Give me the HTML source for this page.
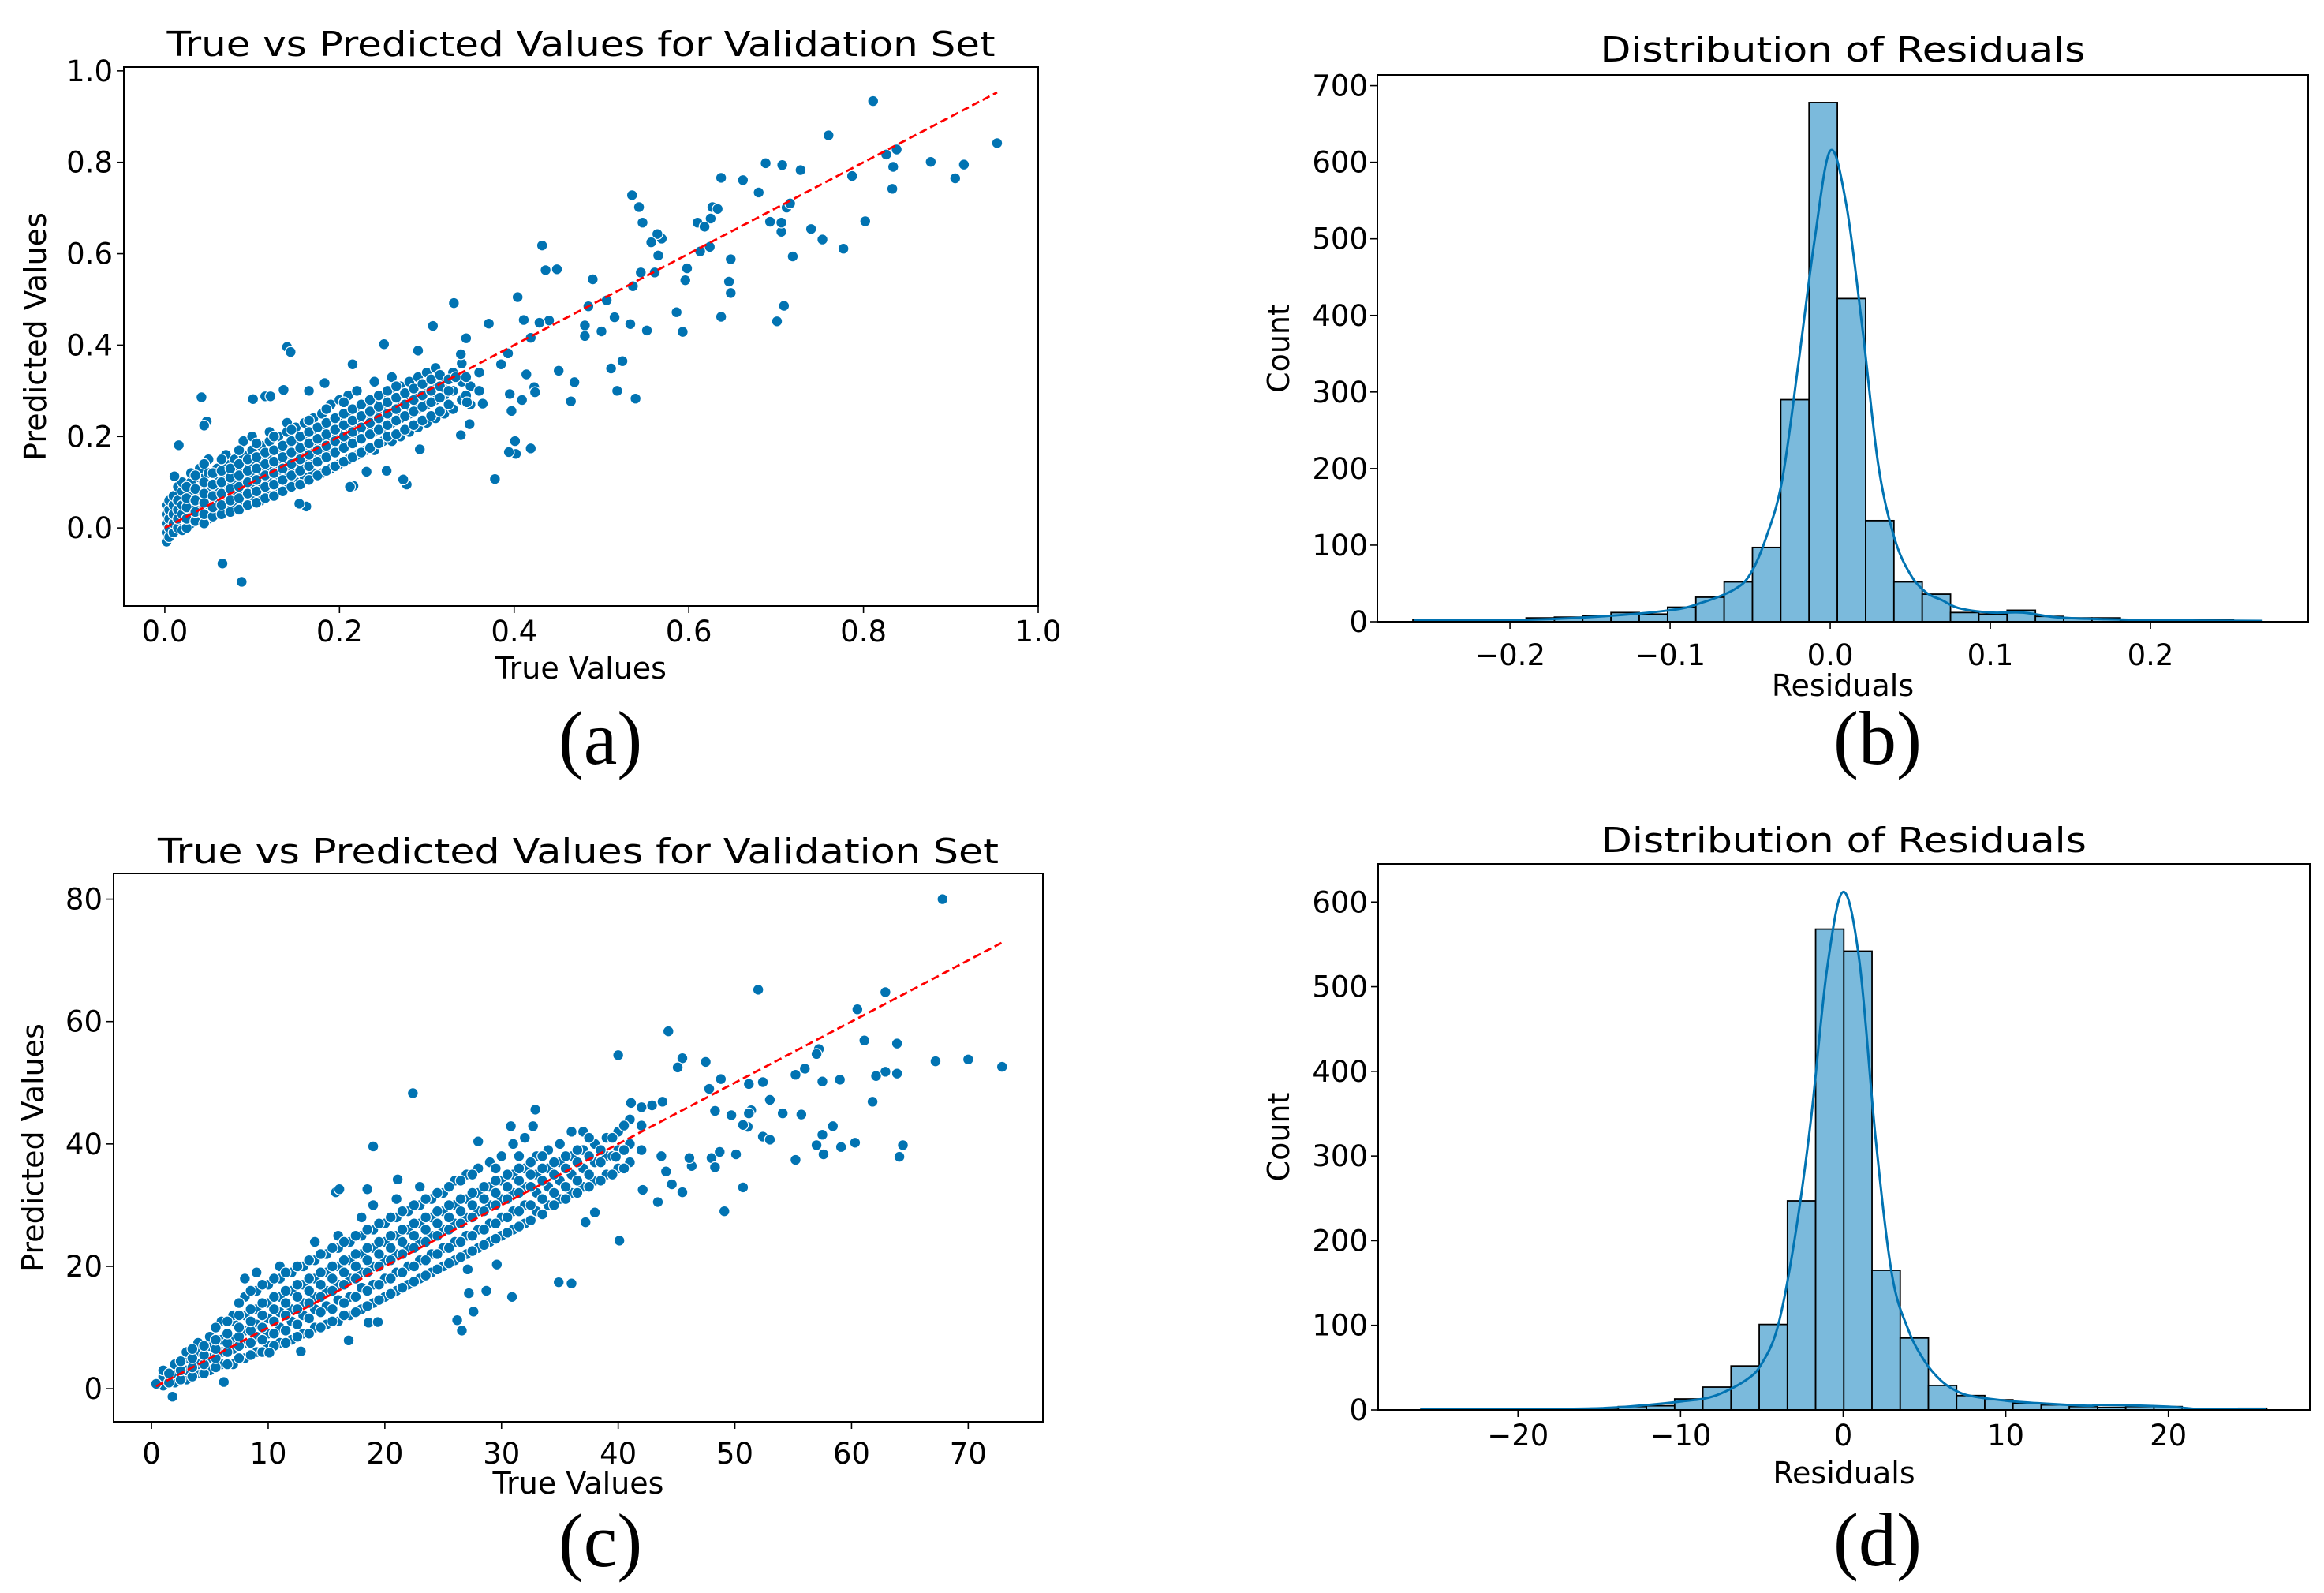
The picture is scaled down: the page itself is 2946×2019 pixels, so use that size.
<!DOCTYPE html>
<html><head><meta charset="utf-8">
<style>
html,body{margin:0;padding:0;background:#fff;}
svg{display:block;}
text{font-family:"DejaVu Sans","Liberation Sans",sans-serif;fill:#000;}
.cap{font-family:"Liberation Serif",serif;}
</style></head>
<body>
<svg id="fig" width="2946" height="2019" viewBox="0 0 2946 2019" xmlns="http://www.w3.org/2000/svg"></svg>
<script>
// ---------- Panel (a) data ----------
const aOutliers = [[0.811,0.934],[0.760,0.859],[0.826,0.817],[0.838,0.828],[0.834,0.790],[0.833,0.742],[0.787,0.770],[0.877,0.801],[0.905,0.765],[0.915,0.795],[0.953,0.842],[0.802,0.671],[0.777,0.611],[0.753,0.631],[0.740,0.654],[0.719,0.594],[0.709,0.486],[0.701,0.452],[0.706,0.648],[0.706,0.668],[0.693,0.670],[0.712,0.701],[0.716,0.710],[0.728,0.783],[0.707,0.794],[0.688,0.798],[0.680,0.734],[0.662,0.761],[0.637,0.766],[0.627,0.702],[0.633,0.698],[0.625,0.677],[0.610,0.668],[0.618,0.659],[0.624,0.615],[0.613,0.605],[0.648,0.588],[0.646,0.539],[0.648,0.514],[0.637,0.462],[0.598,0.568],[0.596,0.542],[0.586,0.472],[0.593,0.429],[0.569,0.633],[0.564,0.643],[0.557,0.625],[0.565,0.596],[0.561,0.559],[0.545,0.559],[0.535,0.728],[0.543,0.702],[0.547,0.668],[0.536,0.529],[0.552,0.432],[0.533,0.446],[0.539,0.283],[0.524,0.365],[0.511,0.349],[0.518,0.300],[0.515,0.461],[0.506,0.498],[0.500,0.430],[0.490,0.544],[0.485,0.485],[0.481,0.443],[0.481,0.420],[0.469,0.319],[0.465,0.277],[0.451,0.344],[0.449,0.566],[0.436,0.564],[0.432,0.618],[0.440,0.454],[0.429,0.449],[0.419,0.416],[0.423,0.308],[0.424,0.297],[0.414,0.336],[0.409,0.280],[0.411,0.455],[0.404,0.505],[0.419,0.174],[0.402,0.162],[0.394,0.166],[0.401,0.190],[0.397,0.256],[0.395,0.293],[0.393,0.382],[0.385,0.358],[0.378,0.107],[0.371,0.447],[0.331,0.492],[0.307,0.442],[0.290,0.388],[0.251,0.402],[0.215,0.358],[0.140,0.396],[0.144,0.385],[0.042,0.286],[0.066,-0.078],[0.088,-0.118],[0.162,0.047],[0.154,0.053],[0.011,0.113],[0.016,0.181],[0.048,0.233],[0.045,0.224],[0.101,0.282],[0.115,0.288],[0.121,0.288],[0.136,0.302],[0.165,0.300],[0.183,0.317],[0.216,0.092],[0.212,0.090],[0.231,0.123],[0.254,0.125],[0.277,0.095],[0.273,0.106],[0.292,0.172],[0.339,0.203],[0.349,0.227],[0.346,0.275],[0.364,0.272],[0.333,0.330],[0.345,0.415],[0.339,0.380]];
const aClusterX = [0.002,0.005,0.01,0.015,0.02,0.03,0.04,0.05,0.06,0.07,0.08,0.09,0.10,0.11,0.12,0.13,0.14,0.15,0.16,0.17,0.18,0.19,0.20,0.21,0.22,0.23,0.24,0.25,0.26,0.27,0.28,0.29,0.30,0.31,0.32,0.33,0.34,0.35,0.36];
const aClusterY = [[-0.03,-0.01,0.01,0.03,0.05],[-0.02,0.0,0.02,0.04,0.06],[-0.01,0.01,0.03,0.05,0.07],[0.0,0.02,0.04,0.06,0.09],[-0.005,0.03,0.05,0.08,0.1],[0.01,0.03,0.05,0.07,0.1,0.12],[0.02,0.04,0.06,0.08,0.11,0.13],[0.02,0.05,0.07,0.09,0.12,0.15],[0.03,0.06,0.08,0.1,0.13],[0.04,0.06,0.09,0.11,0.14,0.16],[0.05,0.07,0.1,0.12,0.15],[0.05,0.08,0.1,0.13,0.16,0.19],[0.06,0.09,0.11,0.14,0.17,0.2],[0.06,0.09,0.12,0.15,0.18],[0.07,0.1,0.13,0.16,0.19,0.21],[0.08,0.11,0.14,0.17,0.2],[0.09,0.12,0.15,0.18,0.21,0.23],[0.1,0.13,0.16,0.19,0.22],[0.11,0.14,0.17,0.2,0.23],[0.12,0.15,0.18,0.21,0.24],[0.12,0.16,0.19,0.22,0.25],[0.13,0.17,0.2,0.23,0.27],[0.14,0.18,0.21,0.24,0.28],[0.15,0.19,0.22,0.25,0.29],[0.16,0.2,0.23,0.26,0.3],[0.17,0.21,0.24,0.27],[0.17,0.21,0.25,0.28,0.32],[0.19,0.22,0.26,0.29],[0.19,0.23,0.26,0.3,0.33],[0.2,0.24,0.27,0.31],[0.21,0.25,0.28,0.32],[0.22,0.26,0.29,0.33],[0.23,0.27,0.3,0.34],[0.24,0.28,0.31,0.35],[0.25,0.29,0.32],[0.26,0.3,0.34],[0.28,0.32,0.36],[0.27,0.31],[0.3,0.34]];
const aCluster2X = [0.025,0.035,0.045,0.055,0.065,0.075,0.085,0.095,0.105,0.115,0.125,0.135,0.145,0.155,0.165,0.175,0.185,0.195,0.205,0.215,0.225,0.235,0.245,0.255,0.265,0.275,0.285,0.295,0.305,0.315,0.325,0.345];
const aCluster2Y = [[0.0,0.02,0.045,0.065,0.09],[0.015,0.035,0.06,0.085,0.115],[0.01,0.03,0.055,0.075,0.1,0.14],[0.025,0.045,0.07,0.095,0.12],[0.03,0.05,0.075,0.1,0.125,0.15],[0.035,0.06,0.085,0.11,0.13],[0.04,0.065,0.09,0.115,0.14,0.17],[0.05,0.075,0.1,0.125,0.15],[0.055,0.08,0.105,0.13,0.155,0.185],[0.065,0.09,0.115,0.14,0.165],[0.07,0.095,0.12,0.145,0.17,0.2],[0.08,0.105,0.13,0.155,0.18],[0.09,0.115,0.14,0.165,0.19,0.215],[0.095,0.125,0.15,0.175,0.2],[0.105,0.135,0.16,0.185,0.21,0.235],[0.115,0.145,0.17,0.195,0.22],[0.125,0.155,0.18,0.205,0.23,0.26],[0.135,0.165,0.19,0.215,0.24],[0.145,0.175,0.2,0.225,0.25,0.275],[0.155,0.185,0.21,0.235,0.26],[0.165,0.195,0.22,0.245,0.27],[0.175,0.205,0.23,0.255,0.28],[0.185,0.215,0.24,0.265,0.29],[0.2,0.225,0.25,0.275,0.3],[0.205,0.235,0.26,0.285,0.31],[0.215,0.245,0.27,0.295],[0.225,0.255,0.28,0.305],[0.235,0.265,0.29,0.315],[0.245,0.275,0.3,0.325],[0.255,0.285,0.31,0.335],[0.27,0.3,0.325],[0.29,0.33]];
const aXTicks = [0.0,0.2,0.4,0.6,0.8,1.0];
const aXTickLabels = ["0.0","0.2","0.4","0.6","0.8","1.0"];
const aYTicks = [0.0,0.2,0.4,0.6,0.8,1.0];
const aYTickLabels = ["0.0","0.2","0.4","0.6","0.8","1.0"];
const aLine = [0.0,0.953];

// ---------- Panel (c) data ----------
const cOutliers = [[67.8,80],[52.0,65.2],[62.9,64.8],[60.5,62.0],[44.3,58.4],[61.1,56.9],[63.9,56.4],[57.2,55.5],[57.0,54.7],[45.5,54.0],[45.1,52.5],[40.0,54.5],[47.5,53.4],[67.2,53.5],[70.0,53.8],[72.9,52.6],[62.9,51.8],[62.1,51.1],[63.9,51.5],[56.0,52.3],[55.2,51.3],[57.5,50.2],[59.0,50.5],[52.4,50.1],[51.2,49.8],[48.8,50.6],[47.8,49.0],[53.0,47.2],[61.8,46.9],[54.1,45.0],[55.7,44.8],[51.4,45.5],[51.2,45.0],[49.7,44.7],[48.3,45.4],[58.4,42.9],[57.5,41.5],[51.1,42.8],[50.7,43.1],[52.4,41.2],[53.0,40.7],[60.3,40.2],[64.4,39.8],[59.1,39.5],[57.0,39.8],[57.6,38.3],[64.1,37.9],[55.2,37.4],[50.1,38.3],[48.0,37.7],[48.7,38.7],[48.3,36.2],[46.3,36.4],[46.1,37.7],[44.6,33.4],[45.5,32.1],[44.1,35.5],[50.7,32.9],[49.1,29.0],[43.4,30.5],[42.1,32.5],[40.1,24.2],[43.7,38.0],[43.8,46.9],[42.9,46.3],[41.1,46.7],[36.0,17.2],[34.9,17.4],[30.9,15.0],[28.7,16.0],[27.2,15.6],[27.6,12.6],[26.2,11.2],[26.6,9.5],[32.9,45.6],[22.4,48.3],[19.0,39.6],[15.8,32.1],[16.1,32.6],[18.5,32.6],[21.1,34.2],[28.0,40.4],[30.8,42.9],[32.7,42.9],[1.8,-1.3],[0.4,0.8],[6.2,1.1],[37.2,27.2],[38.0,28.8],[39.8,37.9],[27.1,19.5],[29.6,20.3],[18.6,10.8],[19.4,10.9],[16.9,7.9],[12.8,6.1],[10.1,5.9]];
const cClusterX = [1,2,3,4,5,6,7,8,9,10,11,12,13,14,15,16,17,18,19,20,21,22,23,24,25,26,27,28,29,30,31,32,33,34,35,36,37,38,39,40,41,42];
const cClusterY = [[0.5,2,3],[1,2.5,4],[1.5,3,5,6],[2.5,4,6,7.5],[3,5,7,8.5],[4,6,8,11],[4,6.5,8,11,12],[5,7.5,9.5,12,15,18],[6,8.5,10.5,13,16,19],[7,9,11.5,14,17],[7.5,10,12.5,15,18,20],[8,11,13,16,19],[9,12,14,17,20],[10,13,15,18,21,24],[10.5,13.5,16,19,22],[11,14.5,17,20,23,25],[12,15,18,21,24],[13,16.5,19,22,25,28],[14,17,20,23,26,30],[15,18,21,24,27],[16,19,22,25,28,31],[17,20,23,26,29],[18,21,24,27,30,33],[19,22,25,28,31],[20,23,26,29,32],[21,24,27,30,34],[22,25,28,31,35],[23,26,29,32,36],[24,27,30,33,37],[25,28,31,34,38],[26,29,32,35,40],[27,30,33,36,41],[29,32,35,38],[30,33,36,39],[31,34,37,40],[32,35,38,42],[33,36,39,42],[34,37,40],[35,38,41],[36,39,42],[37,40,44],[39,43,46]];
const cCluster2X = [1.5,2.5,3.5,4.5,5.5,6.5,7.5,8.5,9.5,10.5,11.5,12.5,13.5,14.5,15.5,16.5,17.5,18.5,19.5,20.5,21.5,22.5,23.5,24.5,25.5,26.5,27.5,28.5,29.5,30.5,31.5,32.5,33.5,34.5,35.5,36.5,37.5,38.5,39.5,40.5];
const cCluster2Y = [[1,2.5],[1.5,3,4.5],[2,3.5,5,6.5],[2.5,4,5.5,7],[3.5,5,6.5,8,10],[4,6,7.5,9,11],[5,7,8.5,10,12,14],[5.5,7.5,9.5,11,13,16],[6,8,10,12,14,17],[7,9,11,13,15,18],[7.5,9.5,12,14,16,19],[8.5,10.5,13,15,17,20],[9,11.5,14,16,18,21],[10,12.5,15,17,19,22],[11,13,16,18,20,23],[12,14,17,19,21,24],[12.5,15,18,20,22,25],[13.5,16,19,21,23,26],[14.5,17,20,22,24,27],[15.5,18,21,23,25,28],[16.5,19,22,24,26,29],[17.5,20,23,25,27,30],[18.5,21,24,26,28,31],[19.5,22,25,27,29,32],[20.5,23,26,28,30,33],[21.5,24,27,29,31,34],[22.5,25,28,30,32,35],[23.5,26,29,31,33],[24.5,27,30,32,34,36],[25.5,28,31,33,35],[26.5,29,32,34,36,38],[27.5,30,33,35,37],[28.5,31,34,36,38],[30,32,35,37],[31,33,36,38],[32,34,37,39],[33,35,38,41],[34,37,39],[35,38,41],[36,39,43]];
const cXTicks = [0,10,20,30,40,50,60,70];
const cXTickLabels = ["0","10","20","30","40","50","60","70"];
const cYTicks = [0,20,40,60,80];
const cYTickLabels = ["0","20","40","60","80"];
const cLine = [0.4,73];

// ---------- Panel (b) data ----------
const bBinStart = -0.2606;
const bBinWidth = 0.01767;
const bCounts = [3,1,0,1,5,6,8,12,10,19,32,52,97,290,678,422,132,52,36,12,10,15,7,5,5,2,3,3,3,1];
const bKdeX = [-0.26,-0.2,-0.15,-0.1,-0.08,-0.06,-0.05,-0.04,-0.03,-0.02,-0.01,0,0.01,0.02,0.03,0.04,0.05,0.06,0.07,0.08,0.1,0.12,0.14,0.16,0.2,0.27];
const bKdeY = [2,2,6,15,25,42,62,110,185,335,495,615,545,385,205,110,62,38,28,18,12,12,6,4,2,1];
const bXTicks = [-0.2,-0.1,0.0,0.1,0.2];
const bXTickLabels = ["\u22120.2","\u22120.1","0.0","0.1","0.2"];
const bYTicks = [0,100,200,300,400,500,600,700];
const bYTickLabels = ["0","100","200","300","400","500","600","700"];

// ---------- Panel (d) data ----------
const dBinStart = -25.97;
const dBinWidth = 1.734;
const dCounts = [1,0,0,1,0,1,2,4,5,13,27,52,101,247,568,542,165,85,29,17,12,8,6,4,3,4,4,0,0,2];
const dKdeX = [-26,-20,-15,-12,-10,-8,-6,-5,-4,-3,-2,-1,0,1,2,3,4,5,6,7,8,10,12,15,16,20,22,26];
const dKdeY = [1,1,2,6,10,16,35,55,100,200,340,520,612,530,320,160,95,58,35,22,16,11,8,5,6,4,1,1];
const dXTicks = [-20,-10,0,10,20];
const dXTickLabels = ["\u221220","\u221210","0","10","20"];
const dYTicks = [0,100,200,300,400,500,600];
const dYTickLabels = ["0","100","200","300","400","500","600"];

// ---------- rendering ----------
const NS = "http://www.w3.org/2000/svg";
const svg = document.getElementById("fig");
function mk(tag, attrs, parent){
  const e = document.createElementNS(NS, tag);
  for (const k in attrs) e.setAttribute(k, attrs[k]);
  (parent||svg).appendChild(e);
  return e;
}
function txt(s, attrs, parent){ const t = mk("text", attrs, parent); t.textContent = s; return t; }
function linScale(d0,d1,r0,r1){ return v => r0 + (v-d0)*(r1-r0)/(d1-d0); }

function axesFrame(g, box, xs, ys, xT, xL, yT, yL, tickBase){
  for (let i=0;i<xT.length;i++){
    const x = xs(xT[i]);
    const t = mk("line",{x1:x,y1:box.b,x2:x,y2:box.b+9,stroke:"#000","stroke-width":1.6},g);
    
    
    const l = txt(xL[i],{x:x,y:tickBase.x,"text-anchor":"middle","font-size":37},g);
    
    
  }
  for (let i=0;i<yT.length;i++){
    const y = ys(yT[i]);
    const t = mk("line",{x1:box.l-9,y1:y,x2:box.l,y2:y,stroke:"#000","stroke-width":1.6},g);
    
    
    const l = txt(yL[i],{x:tickBase.y,y:y+13,"text-anchor":"end","font-size":37},g);
    
    
  }
  const fr = mk("rect",{x:box.l,y:box.t,width:box.r-box.l,height:box.b-box.t,fill:"none",stroke:"#000","stroke-width":2},g);
  
  
}

function labels(g, box, title, titleY, xlab, xlabY, ylab, ylabX, cap, capY, capX, titleLen){
  const cx = (box.l+box.r)/2;
  const t = txt(title,{x:cx,y:titleY,"text-anchor":"middle","font-size":44,textLength:titleLen,lengthAdjust:"spacingAndGlyphs"},g);
  
  
  const xl = txt(xlab,{x:cx,y:xlabY,"text-anchor":"middle","font-size":38},g);
  
  
  const ym = (box.t+box.b)/2;
  const yl = txt(ylab,{x:ylabX,y:ym,"text-anchor":"middle","font-size":38,transform:`rotate(-90 ${ylabX} ${ym})`},g);
  
  
  const c = txt(cap,{x:capX,y:capY,"text-anchor":"middle","font-size":96,"class":"cap"},g);
  
  
}

function scatterPanel(id, box, xdom, ydom, outliers, clusters, line, xT, xL, yT, yL, lab){
  const g = mk("g",{});
  
  
  const xs = linScale(xdom[0],xdom[1],box.l,box.r);
  const ys = linScale(ydom[0],ydom[1],box.b,box.t);
  const pts = [];
  for (const cl of clusters) for (let i=0;i<cl[0].length;i++) for (const y of cl[1][i]) pts.push([cl[0][i],y]);
  for (const p of outliers) pts.push(p);
  const pg = mk("g",{},g);
  
  
  for (const p of pts){
    const c = mk("circle",{cx:xs(p[0]),cy:ys(p[1]),r:6.8,fill:"#0173b2",stroke:"#fff","stroke-width":1.2},pg);
    
    
  }
  const ln = mk("line",{x1:xs(line[0]),y1:ys(line[0]),x2:xs(line[1]),y2:ys(line[1]),stroke:"#ff0000","stroke-width":2.8,"stroke-dasharray":"10 5"},g);
  
  
  axesFrame(g, box, xs, ys, xT, xL, yT, yL, lab.tick);
  labels(g, box, lab.title, lab.titleY, "True Values", lab.xlabY, "Predicted Values", lab.ylabX, lab.cap, lab.capY, lab.capX, lab.titleLen);
}

function smoothPath(pts){
  let d = `M${pts[0][0]},${pts[0][1]}`;
  for (let i=0;i<pts.length-1;i++){
    const p0 = pts[Math.max(0,i-1)], p1 = pts[i], p2 = pts[i+1], p3 = pts[Math.min(pts.length-1,i+2)];
    const c1x = p1[0]+(p2[0]-p0[0])/6, c1y = p1[1]+(p2[1]-p0[1])/6;
    const c2x = p2[0]-(p3[0]-p1[0])/6, c2y = p2[1]-(p3[1]-p1[1])/6;
    d += ` C${c1x},${c1y} ${c2x},${c2y} ${p2[0]},${p2[1]}`;
  }
  return d;
}

function histPanel(id, box, xdom, ydom, start, width, counts, kx, ky, xT, xL, yT, yL, lab){
  const g = mk("g",{});
  
  
  const xs = linScale(xdom[0],xdom[1],box.l,box.r);
  const ys = linScale(ydom[0],ydom[1],box.b,box.t);
  const bg = mk("g",{},g);
  
  
  for (let i=0;i<counts.length;i++){
    const x0 = xs(start+i*width), x1 = xs(start+(i+1)*width);
    const y = ys(counts[i]);
    const r = mk("rect",{x:x0,y:y,width:x1-x0,height:ys(0)-y,fill:"#7bbadc",stroke:"#000","stroke-width":1.8},bg);
    
    
  }
  const pts = kx.map((v,i)=>[xs(v),ys(ky[i])]);
  const k = mk("path",{d:smoothPath(pts),fill:"none",stroke:"#0173b2","stroke-width":3},g);
  
  
  axesFrame(g, box, xs, ys, xT, xL, yT, yL, lab.tick);
  labels(g, box, lab.title, lab.titleY, "Residuals", lab.xlabY, "Count", lab.ylabX, lab.cap, lab.capY, lab.capX, lab.titleLen);
}

scatterPanel("panel-a-scatter",{l:157,r:1316,t:85,b:768},[-0.0469,1.0],[-0.1707,1.0084],
  aOutliers,[[aClusterX,aClusterY],[aCluster2X,aCluster2Y]],aLine,aXTicks,aXTickLabels,aYTicks,aYTickLabels,
  {tick:{x:813,y:143},title:"True vs Predicted Values for Validation Set",titleY:71,xlabY:860,ylabX:58,cap:"(a)",capY:968,capX:761,titleLen:1050});
scatterPanel("panel-c-scatter",{l:144,r:1322,t:1107,b:1802},[-3.25,76.4],[-5.4,84.2],
  cOutliers,[[cClusterX,cClusterY],[cCluster2X,cCluster2Y]],cLine,cXTicks,cXTickLabels,cYTicks,cYTickLabels,
  {tick:{x:1855,y:130},title:"True vs Predicted Values for Validation Set",titleY:1094,xlabY:1893,ylabX:55,cap:"(c)",capY:1985,capX:761,titleLen:1066});
histPanel("panel-b-histogram",{l:1746,r:2926,t:95,b:788},[-0.2828,0.2985],[0,714],
  bBinStart,bBinWidth,bCounts,bKdeX,bKdeY,bXTicks,bXTickLabels,bYTicks,bYTickLabels,
  {tick:{x:843,y:1734},title:"Distribution of Residuals",titleY:78,xlabY:882,ylabX:1634,cap:"(b)",capY:968,capX:2380,titleLen:615});
histPanel("panel-d-histogram",{l:1747,r:2928,t:1095,b:1787},[-28.6,28.7],[0,645],
  dBinStart,dBinWidth,dCounts,dKdeX,dKdeY,dXTicks,dXTickLabels,dYTicks,dYTickLabels,
  {tick:{x:1832,y:1734},title:"Distribution of Residuals",titleY:1080,xlabY:1880,ylabX:1634,cap:"(d)",capY:1984,capX:2380,titleLen:615});
</script>
</body></html>
